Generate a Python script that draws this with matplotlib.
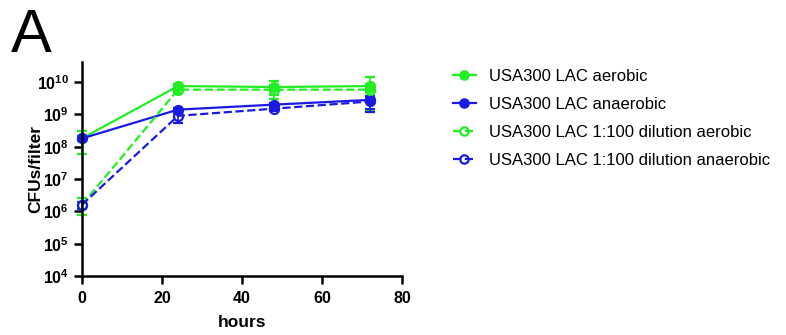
import matplotlib.pyplot as plt
from matplotlib.lines import Line2D
import numpy as np

plt.rcParams['font.family'] = ['Liberation Sans', 'DejaVu Sans']
plt.rcParams['mathtext.fontset'] = 'custom'
plt.rcParams['mathtext.rm'] = 'Liberation Sans:bold'
plt.rcParams['mathtext.bf'] = 'Liberation Sans:bold'

hours = [0, 24, 48, 72]

aero = [1.8e8, 7.5e9, 7.0e9, 7.5e9]
aero_lo = [6.0e7, 6.0e9, 4.0e9, 5.0e9]
aero_hi = [3.0e8, 9.0e9, 1.1e10, 1.4e10]

anaero = [1.8e8, 1.4e9, 2.0e9, 2.8e9]
anaero_lo = [1.5e8, 1.2e9, 1.7e9, 1.5e9]
anaero_hi = [2.1e8, 1.6e9, 2.3e9, 3.8e9]

dil_aero = [1.6e6, 5.8e9, 5.8e9, 5.8e9]
dil_aero_lo = [8.0e5, 4.5e9, 3.0e9, 1.3e9]
dil_aero_hi = [2.5e6, 7.0e9, 8.0e9, 8.5e9]

dil_anaero = [1.6e6, 9.0e8, 1.5e9, 2.5e9]
dil_anaero_lo = [1.2e6, 5.5e8, 1.3e9, 1.2e9]
dil_anaero_hi = [2.0e6, 1.1e9, 1.7e9, 3.5e9]

labels = ['USA300 LAC aerobic', 'USA300 LAC anaerobic',
          'USA300 LAC 1:100 dilution aerobic', 'USA300 LAC 1:100 dilution anaerobic']

green = '#22ee22'
blue = '#1a1ae6'

fig = plt.figure(figsize=(7.86, 3.35), dpi=100)
ax = fig.add_axes([0.1043, 0.176, 0.4071, 0.639])

series = [
    (aero, aero_lo, aero_hi, green, '-', green),
    (anaero, anaero_lo, anaero_hi, blue, '-', blue),
    (dil_aero, dil_aero_lo, dil_aero_hi, green, '--', 'none'),
    (dil_anaero, dil_anaero_lo, dil_anaero_hi, blue, '--', 'none'),
]

handles = []
for y, lo, hi, c, ls, fc in series:
    y = np.array(y)
    err = [y - np.array(lo), np.array(hi) - y]
    ax.errorbar(hours, y, yerr=err, color=c, ls=ls, lw=1.6, marker='o',
                ms=6.5, mfc=fc, mec=c, mew=1.6, capsize=3.5, elinewidth=1.2,
                capthick=1.2, clip_on=False)
    handles.append(Line2D([], [], color=c, ls=ls, lw=1.6, marker='o', ms=6,
                          mfc=fc, mec=c, mew=1.6))

ax.set_yscale('log')
ax.set_ylim(1e4, 10**10.62)
ax.set_xlim(0, 80)
ax.set_xticks([0, 20, 40, 60, 80])
ax.set_yticks([1e4, 1e5, 1e6, 1e7, 1e8, 1e9, 1e10])
ax.yaxis.set_minor_locator(plt.NullLocator())

for s in ['top', 'right']:
    ax.spines[s].set_visible(False)
for s in ['left', 'bottom']:
    ax.spines[s].set_linewidth(1.8)
ax.tick_params(width=1.8, length=6, labelsize=11.5)
ax.tick_params(axis='x', pad=5)
for t in ax.get_xticklabels() + ax.get_yticklabels():
    t.set_fontweight('bold')

ax.set_xlabel('hours', fontsize=12.5, fontweight='bold', labelpad=6)
ax.set_ylabel('CFUs/filter', fontsize=12.5, fontweight='bold')
ax.yaxis.set_label_coords(-0.122, 0.5)

fig.text(0.014, 0.845, 'A', fontsize=44)

fig.legend(handles=handles, labels=labels, loc='upper left',
           bbox_to_anchor=(0.557, 0.838), frameon=False, fontsize=12,
           handlelength=1.4, labelspacing=0.78, handletextpad=0.8)

fig.savefig('out.png', dpi=100)
